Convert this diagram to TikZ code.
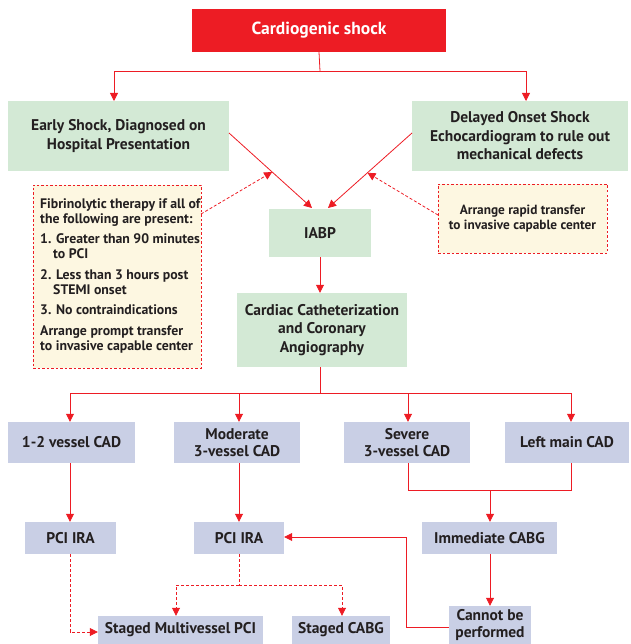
\documentclass[tikz,border=0pt]{standalone}
\usepackage{fontspec}
\setmainfont{PT Sans}
\usetikzlibrary{arrows.meta,calc}
\definecolor{cred}{HTML}{ED1C24}
\definecolor{cgreen}{HTML}{D3E9D5}
\definecolor{clav}{HTML}{C9CFE5}
\definecolor{ccream}{HTML}{FDF7E1}
\definecolor{ctext}{HTML}{231F20}
\tikzset{
  box/.style={inner sep=0pt, align=center, text=ctext},
  gbox/.style={box, fill=cgreen, font=\bfseries\fontsize{15.5}{18.5}\selectfont},
  lbox/.style={box, fill=clav},
  nbox/.style={box, fill=ccream, draw=cred, line width=0.8pt, dash pattern=on 2.5pt off 2pt},
  arr/.style={draw=cred, line width=0.8pt, -{Triangle[length=8pt,width=8pt]}},
  ln/.style={draw=cred, line width=0.8pt},
  darr/.style={arr, dash pattern=on 3pt off 2pt},
  dln/.style={ln, dash pattern=on 3pt off 2pt},
}
\begin{document}
\begin{tikzpicture}[x=1pt,y=-1pt, font=\bfseries\fontsize{15.5}{17.5}\selectfont]
\useasboundingbox (0,0) rectangle (630,644);
% top
\node[box, fill=cred, text=white, minimum width=254pt, minimum height=43pt, font=\bfseries\fontsize{17.5}{20}\selectfont] (top) at (319,30.5) {Cardiogenic shock};
\node[gbox, minimum width=221pt, minimum height=70pt] (early) at (118.5,136) {Early Shock, Diagnosed on\\Hospital Presentation};
\node[gbox, minimum width=216pt, minimum height=70pt] (delayed) at (520,136) {Delayed Onset Shock\\Echocardiogram to rule out\\mechanical defects};
\node[nbox, minimum width=168pt, minimum height=183pt] (fib) at (117,276.5) {};
\node[text=ctext, align=left, anchor=north west, inner sep=0pt, font=\bfseries\fontsize{13.8}{15}\selectfont] (fibtxt) at (40,198) {%
Fibrinolytic therapy if all of\\the following are present:\\[5.5pt]
1. Greater than 90 minutes\\\hspace*{13pt}to PCI\\[5.5pt]
2. Less than 3 hours post\\\hspace*{13pt}STEMI onset\\[5.5pt]
3. No contraindications\\[5.5pt]
Arrange prompt transfer\\to invasive capable center};
\node[gbox, minimum width=102pt, minimum height=48pt] (iabp) at (320,233) {IABP};
\node[nbox, minimum width=169pt, minimum height=69pt, font=\bfseries\fontsize{13.3}{14.5}\selectfont] (rapid) at (522.5,218.5) {Arrange rapid transfer\\to invasive capable center};
\node[gbox, minimum width=170pt, minimum height=74pt] (cath) at (322,330) {Cardiac Catheterization\\and Coronary\\Angiography};
% row of CAD
\node[lbox, minimum width=127pt, minimum height=41pt] (v12) at (71.5,442.5) {1-2 vessel CAD};
\node[lbox, minimum width=126pt, minimum height=41pt] (mod) at (237,442.5) {Moderate\\3-vessel CAD};
\node[lbox, minimum width=126pt, minimum height=41pt] (sev) at (407,442.5) {Severe\\3-vessel CAD};
\node[lbox, minimum width=124pt, minimum height=41pt] (lm) at (567,442.5) {Left main CAD};
% next row
\node[lbox, minimum width=91pt, minimum height=32pt] (pci1) at (70.5,538) {PCI IRA};
\node[lbox, minimum width=90pt, minimum height=32pt] (pci2) at (239,538) {PCI IRA};
\node[lbox, minimum width=135pt, minimum height=32pt] (icabg) at (489.5,538) {Immediate CABG};
% bottom
\node[lbox, minimum width=165pt, minimum height=28pt] (smp) at (180.5,630) {Staged Multivessel PCI};
\node[lbox, minimum width=98pt, minimum height=28pt] (scabg) at (341,630) {Staged CABG};
\node[lbox, minimum width=82pt, minimum height=38pt] (cannot) at (490,625) {Cannot be\\performed};
% connectors top
\coordinate (j1) at (320,71);
\draw[ln] (top.south) -- (j1);
\draw[arr] (j1) -| (114,101);
\draw[arr] (j1) -| (526,101);
% diagonals
\coordinate (eL) at (229,133);
\coordinate (eR) at (412,133);
\coordinate (iL) at (312,208);
\coordinate (iR) at (328,208);
\draw[arr] (eL) -- (iL);
\draw[arr] (eR) -- (iR);
\coordinate (pL) at ($(eL)!0.52!(iL)$);
\coordinate (pR) at ($(eR)!0.53!(iR)$);
\draw[darr] (201,214) -- (pL);
\draw[darr] (438,215) -- (pR);
% IABP -> cath
\draw[arr] (iabp.south) -- (cath.north -| iabp.south);
% cath -> row
\coordinate (j2) at (320,393);
\draw[ln] (cath.south -| j2) -- (j2);
\draw[ln] (70,393) -- (571,393);
\draw[arr] (70,393) -- (v12.north -| 70,0);
\draw[arr] (239,393) -- (mod.north -| 239,0);
\draw[arr] (408,393) -- (sev.north -| 408,0);
\draw[arr] (571,393) -- (lm.north -| 571,0);
% vertical
\draw[arr] (v12.south -| 70,0) -- (pci1.north -| 70,0);
\draw[arr] (mod.south -| 239,0) -- (pci2.north -| 239,0);
\draw[ln] (sev.south -| 408,0) |- (571,490) -- (lm.south -| 571,0);
\draw[arr] (490,490) -- (icabg.north -| 490,0);
\draw[arr] (icabg.south -| 490,0) -- (cannot.north -| 490,0);
% cannot -> pci2
\draw[arr] (cannot.west |- 0,627) -| (406,537) -- (pci2.east |- 0,537);
% dashed
\draw[darr] (pci1.south -| 70,0) |- (smp.west |- 0,632);
\draw[dln] (pci2.south -| 239,0) -- (239,585);
\draw[darr] (239,585) -| (smp.north -| 176,0);
\draw[darr] (239,585) -| (scabg.north -| 342,0);
\end{tikzpicture}
\end{document}
